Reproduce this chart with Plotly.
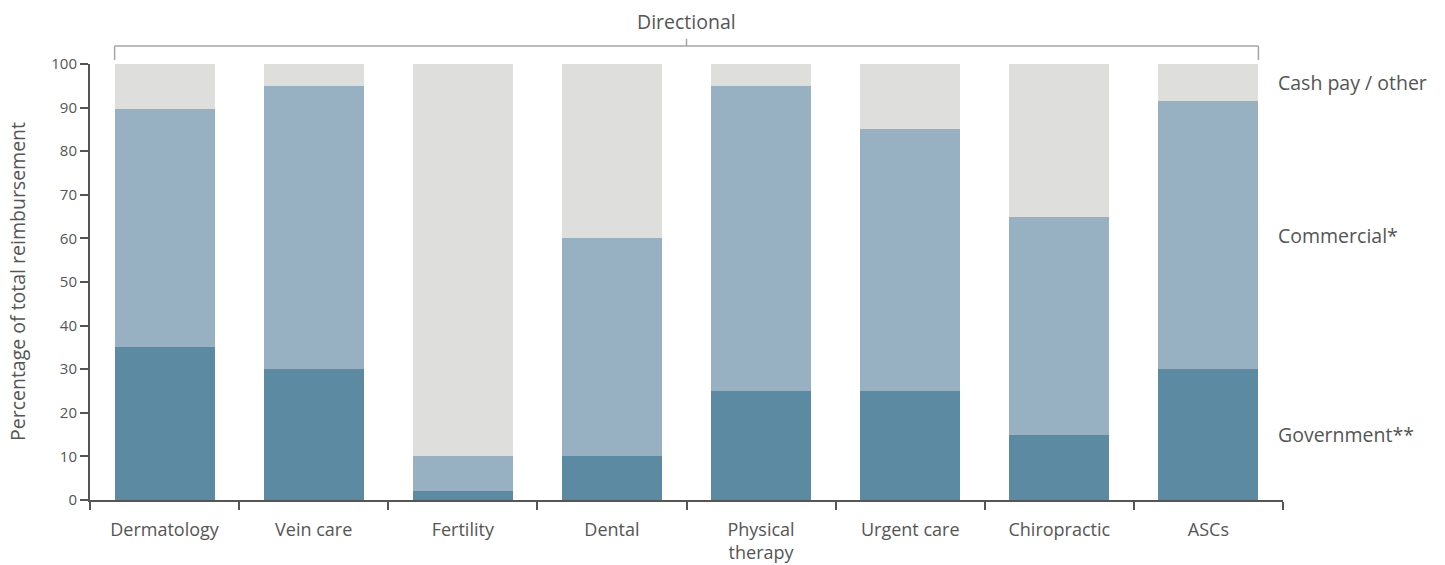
import plotly.graph_objects as go

categories = ["Dermatology", "Vein care", "Fertility", "Dental", "Physical<br>therapy",
              "Urgent care", "Chiropractic", "ASCs"]
government = [35, 30, 2, 10, 25, 25, 15, 30]
commercial = [54.7, 65, 8, 50, 70, 60, 50, 61.5]
cash_other = [10.3, 5, 90, 40, 5, 15, 35, 8.5]
series_names = ["Government**", "Commercial*", "Cash pay / other"]
colors = ["#5D8AA3", "#97B1C2", "#DEDEDC"]
y_ticks = [0, 10, 20, 30, 40, 50, 60, 70, 80, 90, 100]

BAR_W = 0.67
FONT = "Open Sans"
TXT = "#555555"
BIG = 19.5

fig = go.Figure()
for name, vals, col in zip(series_names, [government, commercial, cash_other], colors):
    fig.add_trace(go.Bar(x=categories, y=vals, name=name, marker=dict(color=col, line=dict(width=0)),
                         width=BAR_W, showlegend=False, hoverinfo="x+y+name"))

# right-side labels at the centre of the last bar's segments
last = len(categories) - 1
bottoms = [0, government[last], government[last] + commercial[last]]
heights = [government[last], commercial[last], cash_other[last]]
for name, b, h in zip(series_names, bottoms, heights):
    fig.add_annotation(xref="paper", x=1, xshift=-7, xanchor="left", yref="y", y=b + h / 2,
                       text=name, showarrow=False, font=dict(size=BIG, color=TXT, family=FONT))

# bracket "Directional"
left = -BAR_W / 2
right = last + BAR_W / 2
mid = (left + right) / 2
line_style = dict(color="#A6A6A6", width=1.5)
fig.add_shape(type="line", xref="x", yref="paper", x0=left, x1=right, y0=1.0413, y1=1.0413, line=line_style)
fig.add_shape(type="line", xref="x", yref="paper", x0=left, x1=left, y0=1.0413, y1=1.009, line=line_style)
fig.add_shape(type="line", xref="x", yref="paper", x0=right, x1=right, y0=1.0413, y1=1.009, line=line_style)
fig.add_shape(type="line", xref="x", yref="paper", x0=mid, x1=mid, y0=1.0413, y1=1.058, line=line_style)
fig.add_annotation(xref="x", x=mid, yref="paper", y=1.0413, yshift=9, yanchor="bottom",
                   text="Directional", showarrow=False, font=dict(size=BIG, color=TXT, family=FONT))

# y-axis title
fig.add_annotation(xref="paper", x=0, xshift=-73, xanchor="center", yref="paper", y=0.5,
                   text="Percentage of total reimbursement", textangle=-90, showarrow=False,
                   font=dict(size=BIG, color=TXT, family=FONT))

fig.update_layout(
    barmode="stack",
    width=1445, height=565,
    margin=dict(l=90, r=162, t=64, b=65),
    paper_bgcolor="white", plot_bgcolor="white",
    font=dict(family=FONT, color=TXT),
    xaxis=dict(showline=True, linecolor="#555555", linewidth=2, ticks="outside", ticklen=8,
               tickwidth=2, tickcolor="#555555", tickson="boundaries", showgrid=False,
               ticklabelstandoff=12, automargin=False,
               tickfont=dict(size=18, color=TXT, family=FONT), range=[-0.5, 7.5]),
    yaxis=dict(range=[0, 100], tickvals=y_ticks, showline=True, linecolor="#555555", linewidth=2,
               ticks="outside", ticklen=8, tickwidth=2, tickcolor="#555555", showgrid=False,
               automargin=False,
               zeroline=False, tickfont=dict(size=15, color=TXT, family=FONT)),
)

fig.write_html("out.html")
